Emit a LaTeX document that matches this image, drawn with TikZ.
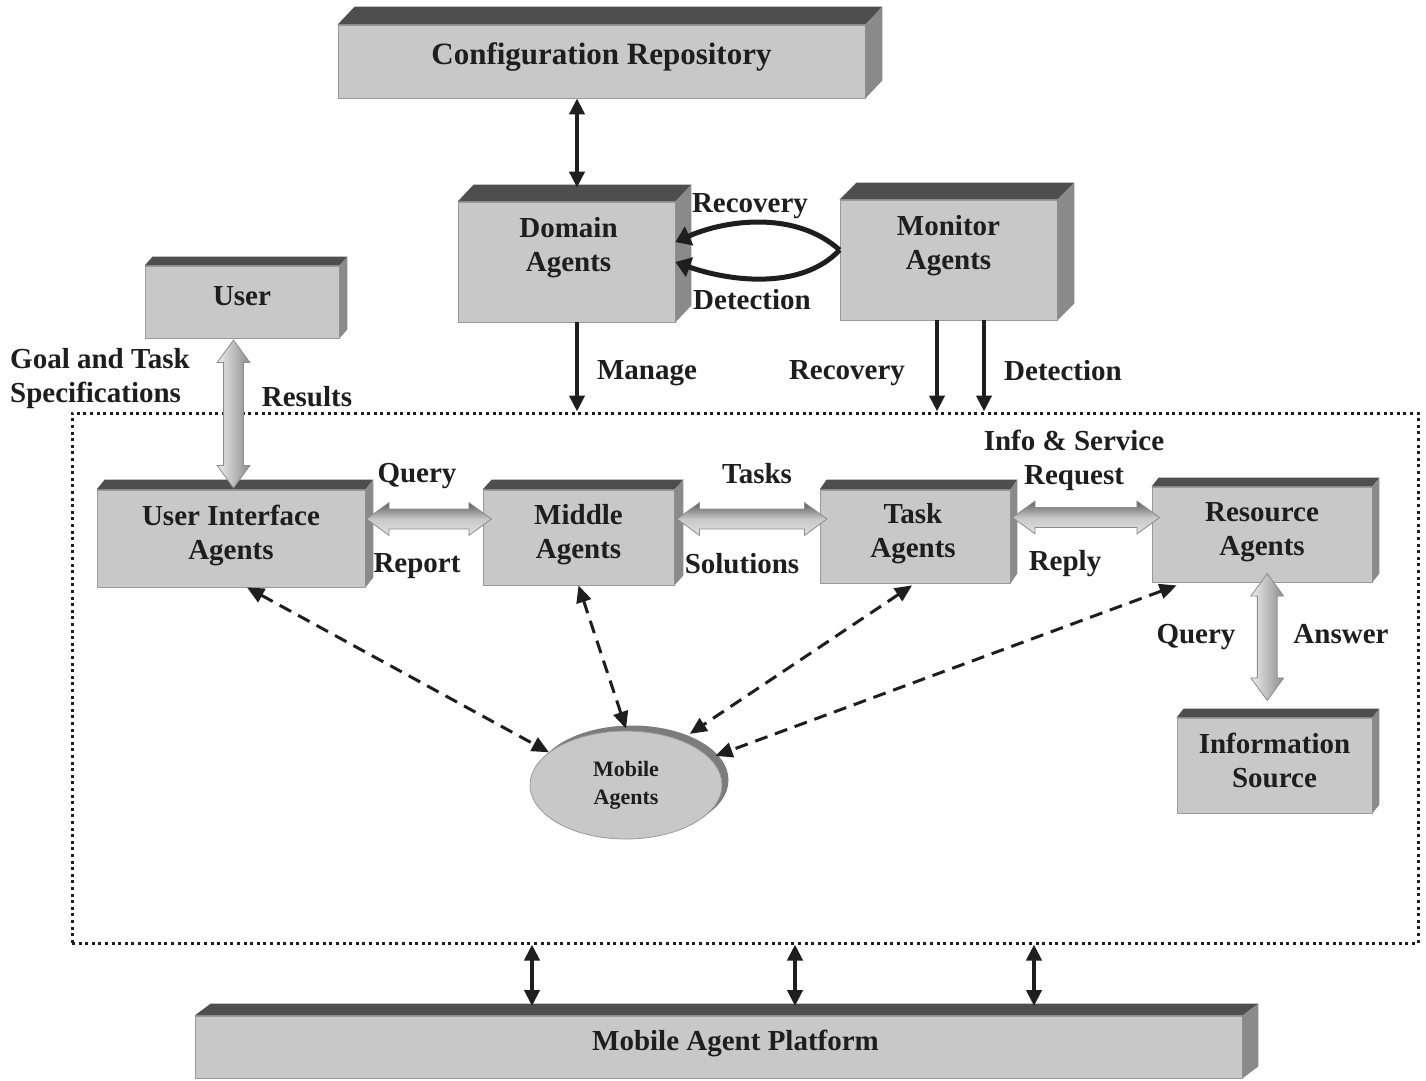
\documentclass[tikz,border=0pt]{standalone}
\usepackage{fontspec}
\setmainfont{Liberation Serif}
\usetikzlibrary{arrows.meta,shapes.arrows,shapes.geometric,calc}

\definecolor{ink}{HTML}{1E1E1E}
\definecolor{facefront}{HTML}{C8C8C8}
\definecolor{faceedge}{HTML}{9A9A9A}
\definecolor{facetop}{HTML}{4E4E4E}
\definecolor{faceside}{HTML}{8A8A8A}
\definecolor{shade}{HTML}{7C7C7C}
\definecolor{arrowdark}{HTML}{5E5E5E}
\definecolor{arrowlight}{HTML}{E2E2E2}
\definecolor{arrowedge}{HTML}{8C8C8C}

\tikzset{
  face/.style={rectangle, fill=facefront, draw=faceedge, line width=0.8pt, inner sep=0pt},
  boxtext/.style={font=\fontsize{29}{34}\selectfont\bfseries, text=ink, align=center, inner sep=0pt},
  lbl/.style={font=\fontsize{29}{34}\selectfont\bfseries, text=ink, align=center, inner sep=0pt},
  frame/.style={rectangle, draw=ink, line width=3pt, dash pattern=on 3pt off 3.6pt, inner sep=0pt},
  tipb/.tip={Triangle[length=16pt,width=15pt]},
  blk/.style={draw=ink, line width=4pt, tipb-tipb},
  blkone/.style={draw=ink, line width=4pt, -tipb},
  curv/.style={draw=ink, line width=5pt, -{Triangle[length=15pt,width=20pt]}},
  dsh/.style={draw=ink, line width=3pt, dash pattern=on 13pt off 8pt,
    {Triangle[length=17pt,width=15pt]}-{Triangle[length=17pt,width=15pt]}},
  fatbase/.style={double arrow, double arrow head extend=6.5pt, double arrow tip angle=72,
    text width=19pt, text height=9.5pt, text depth=9.5pt,
    inner sep=0pt, draw=arrowedge, line width=0.8pt},
  fath/.style={fatbase, top color=arrowdark, bottom color=arrowlight, middle color=arrowlight!80!arrowdark},
  fatv/.style={fatbase, shape border rotate=90, left color=arrowlight!60!white, right color=arrowedge},
}

% a raised block: name, front face corners (x1,y1) (x2,y2), depth dx dy, text, text offset
\newcommand{\raisedbox}[9]{%
  \node[face, minimum width={(#4-#2)*1pt}, minimum height={(#5-#3)*1pt}] (#1) at ({(#2+#4)/2},{(#3+#5)/2}) {};
  \fill[facetop] (#1.north west) -- ++(#6,-#7) -- ([shift={(#6,-#7)}]#1.north east) -- (#1.north east) -- cycle;
  \fill[faceside] (#1.north east) -- ++(#6,-#7) -- ([shift={(#6,-#7)}]#1.south east) -- (#1.south east) -- cycle;
  \node[boxtext] (#1-text) at ([#9]#1.center) {#8};
}

\begin{document}
\begin{tikzpicture}[x=1pt,y=-1pt]
\useasboundingbox (0,0) rectangle (1426,1080);
\fill[white] (0,0) rectangle (1426,1080);

% dotted agent area
\node[frame, minimum width=1346pt, minimum height=530pt] (frame) at (745,678) {};

% blocks
\raisedbox{conf}{338}{25}{865}{98}{17}{18}{\fontsize{31}{36}\selectfont Configuration Repository}{yshift=4pt}
\raisedbox{dom}{458}{202}{675}{322}{16}{17}{Domain\\Agents}{yshift=14pt,xshift=2pt}
\raisedbox{mon}{840}{200}{1057}{320}{17}{17}{Monitor\\Agents}{yshift=14pt}
\raisedbox{user}{145}{266}{339}{338}{8}{9}{User}{yshift=6pt}
\raisedbox{uia}{97}{490}{365}{587}{8}{10}{User Interface\\Agents}{yshift=3pt}
\raisedbox{mid}{483}{490}{674}{585}{9}{10}{Middle\\Agents}{yshift=3pt}
\raisedbox{task}{820}{490}{1010}{583}{7}{10}{Task\\Agents}{yshift=3pt,xshift=-2pt}
\raisedbox{res}{1152}{487}{1372}{582}{7}{9}{Resource\\Agents}{yshift=2pt}
\raisedbox{info}{1177}{718}{1372}{813}{7}{9}{Information\\Source}{yshift=5pt}
\raisedbox{plat}{195}{1016}{1242}{1078}{16}{12}{Mobile Agent Platform}{yshift=4pt,xshift=17pt}

% mobile agents disc
\node[ellipse, fill=shade, minimum width=193pt, minimum height=109pt, inner sep=0pt] (mob-shade) at (632,780) {};
\node[ellipse, fill=facefront, draw=faceedge, line width=0.8pt, minimum width=192pt, minimum height=108pt, inner sep=0pt,
      font=\fontsize{22}{28}\selectfont\bfseries, text=ink, align=center] (mob) at (626,785) {Mobile\\Agents};

% repository and management links
\coordinate (dom-top) at ([xshift=10.5pt,yshift=14pt]dom.north);
\draw[blk] (conf.south -| dom-top) -- (dom-top);
\draw[blkone] ([xshift=10.5pt]dom.south) -- ([xshift=10.5pt]dom.south |- frame.north);
\draw[blkone] ([xshift=-11.5pt]mon.south) -- ([xshift=-11.5pt]mon.south |- frame.north);
\draw[blkone] ([xshift=35.5pt]mon.south) -- ([xshift=35.5pt]mon.south |- frame.north);

% recovery / detection loop
\coordinate (mon-w) at ([yshift=10pt]mon.west);
\draw[curv] (mon-w) .. controls (795,210) and (725,220) .. ([yshift=20pt]dom.east);
\draw[curv] (mon-w) .. controls (800,292) and (725,280) .. (dom.east);

% platform links
\coordinate (p1) at (532,1006);
\coordinate (p2) at (795,1006);
\coordinate (p3) at (1034,1006);
\draw[blk] (p1 |- frame.south) -- (p1);
\draw[blk] (p2 |- frame.south) -- (p2);
\draw[blk] (p3 |- frame.south) -- (p3);

% wide two-way arrows
\node[fatv, minimum height=148pt] (ua-link) at ($(user.south)!0.5!(uia.north)+(-3,0)$) {};
\node[fath, minimum height=125pt] (um-link) at ($(uia.east)!0.5!(mid.west)+(5,-19)$) {};
\node[fath, minimum height=150pt] (mt-link) at ($(mid.east)!0.5!(task.west)+(5,-18)$) {};
\node[fath, minimum height=147pt] (tr-link) at ($(task.east)!0.5!(res.west)+(5,-18)$) {};
\node[fatv, minimum height=127pt] (ri-link) at ($(res.south)!0.5!(info.north)+(-1,-13)$) {};

% mobile agent links
\draw[dsh] ([xshift=16pt]uia.south) -- (mob.157);
\draw[dsh] (mid.south) -- ([yshift=2pt]mob.90);
\draw[dsh] ([xshift=-3pt,yshift=-2pt]task.south) -- ([shift={(10,-6)}]mob.40);
\draw[dsh] ([xshift=25pt,yshift=-3pt]res.south west) -- ([shift={(6,-2)}]mob.18);

% labels
\node[lbl] (l-rec1) at (750,206) {Recovery};
\node[lbl] (l-det1) at (752,300) {Detection};
\node[lbl] (l-man) at (647,373) {Manage};
\node[lbl] (l-rec2) at (847,373) {Recovery};
\node[lbl] (l-det2) at (1063,371) {Detection};
\node[lbl, align=left, anchor=west] (l-goal) at (10,379) {Goal and Task\\Specifications};
\node[lbl] (l-res) at (307,397) {Results};
\node[lbl] (l-q1) at (417,476) {Query};
\node[lbl] (l-rep) at (417,566) {Report};
\node[lbl] (l-tasks) at (757,474) {Tasks};
\node[lbl] (l-sol) at (742,564) {Solutions};
\node[lbl] (l-info) at (1074,460) {Info \& Service\\Request};
\node[lbl] (l-reply) at (1065,564) {Reply};
\node[lbl] (l-q2) at (1196,637) {Query};
\node[lbl] (l-ans) at (1341,634) {Answer};
\end{tikzpicture}
\end{document}
